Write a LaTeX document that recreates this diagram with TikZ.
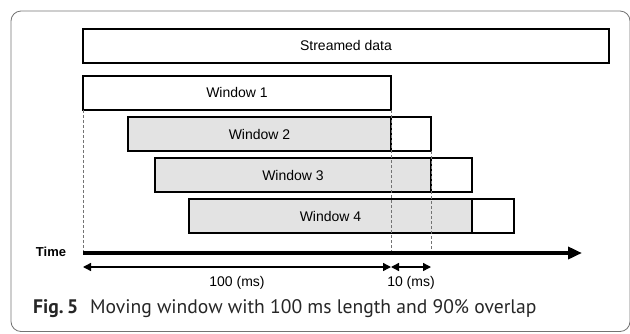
\documentclass[tikz,border=0pt]{standalone}
\usepackage{fontspec}
\setmainfont{Liberation Sans}
\newfontfamily\capfont{PT Sans}
\usetikzlibrary{arrows.meta}
\definecolor{winfill}{gray}{0.89}
\definecolor{framegray}{gray}{0.45}
\definecolor{captext}{gray}{0.15}

\begin{document}
\begin{tikzpicture}[
  x=1pt, y=-1pt,
  box/.style={draw, line width=2pt, rectangle, minimum height=34pt, inner sep=0pt, outer sep=0pt, font=\fontsize{14}{16}\selectfont},
  win/.style={box, fill=winfill},
  tail/.style={box, fill=white},
  guide/.style={draw=gray!90!black, line width=1pt, dash pattern=on 3pt off 2pt},
  span/.style={line width=1.4pt, {Triangle[length=8pt,width=8pt]}-{Triangle[length=8pt,width=8pt]}},
  lbl/.style={font=\fontsize{14}{16}\selectfont},
  >={Triangle[length=14pt,width=12pt]}
]
  \useasboundingbox (0,0) rectangle (630,333);
  \draw[framegray, line width=0.8pt, rounded corners=10pt] (11,11) rectangle (630,331.5);

  \node[box, minimum width=526pt] (stream) at (346,45.5) {Streamed data};

  \node[box, fill=white, minimum width=308pt] (w1) at (237,92.75) {Window 1};
  \node[win, minimum width=263pt] (w2) at (259.5,134) {Window 2};
  \node[tail, minimum width=40pt] (w2t) at (411,134) {};
  \node[win, minimum width=276pt] (w3) at (293,175) {Window 3};
  \node[tail, minimum width=41pt] (w3t) at (451.5,175) {};
  \node[win, minimum width=283pt] (w4) at (330.5,216) {Window 4};
  \node[tail, minimum width=42pt] (w4t) at (493,216) {};

  \node[font=\bfseries\fontsize{13}{15}\selectfont] (time) at (51,251.5) {Time};
  \coordinate (t0) at (83,253);
  \coordinate (t1) at (582,253);

  \draw[guide] (w1.south west) -- (w1.south west |- t0);
  \draw[guide] (w1.south east) -- (w1.south east |- t0);
  \draw[guide] (w2t.south east) -- (w2t.south east |- t0);

  \draw[->, line width=4pt] (t0) -- (t1);

  \coordinate (m0) at (83,267);
  \coordinate (m1) at (391,267);
  \coordinate (m2) at (431,267);
  \draw[span] (m0) -- (m1);
  \draw[span] (m1) -- (m2);
  \node[lbl] (l100) at (237,283) {100 (ms)};
  \node[lbl] (l10) at (411,283) {10 (ms)};

  \node[anchor=base west, inner sep=0pt, text=captext, font=\capfont\fontsize{19.6}{24}\selectfont] (cap) at (33,313.5)
    {\textbf{Fig.\,5}\hspace{12pt}Moving window with 100 ms length and 90\% overlap};
\end{tikzpicture}
\end{document}
